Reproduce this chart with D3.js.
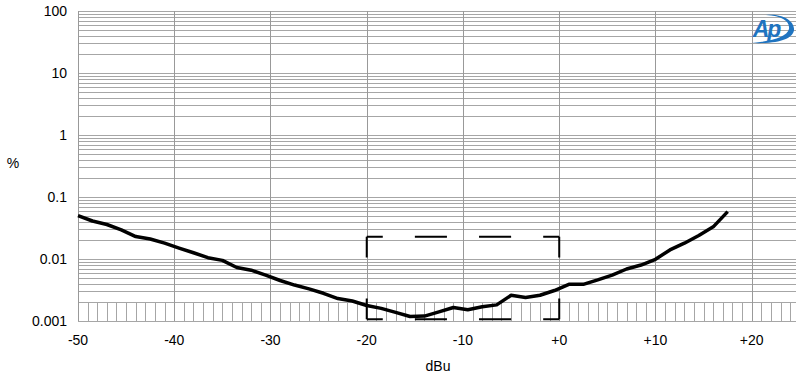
<!DOCTYPE html>
<html>
<head>
<meta charset="utf-8">
<script src="https://cdn.jsdelivr.net/npm/d3@7"></script>
<style>
  body { margin: 0; background: #fff; }
  text { font-family: "Liberation Sans", Arial, sans-serif; }
</style>
</head>
<body>
<svg id="chart"></svg>
<script>
// level sweep, dBu
const levels = [-50, -48.5, -47, -45.5, -44, -42.5, -41, -39.5, -38, -36.5, -35, -33.5, -32, -30.5,
  -29, -27.5, -26, -24.5, -23, -21.5, -20, -18.5, -17, -15.5, -14, -12.5, -11, -9.5, -8, -6.5,
  -5, -3.5, -2, -0.5, 1, 2.5, 4, 5.5, 7, 8.5, 10, 11.5, 13, 14.5, 16, 17.5];
// THD+N, %
const thdn = [0.050, 0.041, 0.036, 0.0294, 0.023, 0.021, 0.018, 0.015, 0.0126, 0.0105, 0.0095, 0.0073, 0.0066, 0.0055,
  0.0045, 0.0038, 0.0033, 0.0028, 0.0023, 0.0021, 0.00178, 0.0016, 0.00138, 0.00118, 0.0012, 0.0014, 0.00165, 0.00152, 0.0017, 0.00182,
  0.0026, 0.0024, 0.0026, 0.0031, 0.0039, 0.0039, 0.0046, 0.0055, 0.0069, 0.008, 0.0099, 0.014, 0.018, 0.024, 0.033, 0.058];

const xTicks = [-50, -40, -30, -20, -10, 0, 10, 20];
const xTickLabels = ["-50", "-40", "-30", "-20", "-10", "+0", "+10", "+20"];
const yTicks = [0.001, 0.01, 0.1, 1, 10, 100];
const yTickLabels = ["0.001", "0.01", "0.1", "1", "10", "100"];

// limit box: dBu range and % range
const boxX = [-20, 0];
const boxY = [0.00107, 0.0228];

const W = 796, H = 376;
const svg = d3.select("#chart").attr("width", W).attr("height", H);

const x = d3.scaleLinear().domain([-50, 24.6]).range([78, 796]);
const y = d3.scaleLog().domain([0.001, 100]).range([321, 11]);

const grid = svg.append("g").attr("shape-rendering", "crispEdges");

// horizontal lines: decades + minor (none between 0.001 and 0.002)
const hLines = [];
for (let dec = 0.001; dec < 100; dec *= 10) {
    for (let m = 1; m <= 9; m++) {
        const v = +(dec * m).toPrecision(3);
        if (dec === 0.001 && m === 1) { hLines.push(v); continue; }
        if (dec === 0.001 && m < 2) continue;
        hLines.push(v);
    }
}
hLines.push(100);

grid.selectAll(".hl")
    .data(hLines)
    .enter().append("line")
    .attr("x1", x(-50)).attr("x2", W)
    .attr("y1", d => Math.round(y(d)) + 0.5)
    .attr("y2", d => Math.round(y(d)) + 0.5)
    .attr("stroke", "#a6a6a6")
    .attr("stroke-width", 1);

// hatch below 0.002, one per dB
grid.selectAll(".hatch")
    .data(d3.range(-49, 25))
    .enter().append("line")
    .attr("x1", d => Math.round(x(d)) + 0.5)
    .attr("x2", d => Math.round(x(d)) + 0.5)
    .attr("y1", y(0.002)).attr("y2", y(0.001))
    .attr("stroke", "#a6a6a6")
    .attr("stroke-width", 1);

// major vertical lines
grid.selectAll(".vl")
    .data(xTicks)
    .enter().append("line")
    .attr("x1", d => Math.round(x(d)) + 0.5)
    .attr("x2", d => Math.round(x(d)) + 0.5)
    .attr("y1", y(100)).attr("y2", y(0.001))
    .attr("stroke", "#999")
    .attr("stroke-width", 1.2);

// tick labels
svg.selectAll(".xt")
    .data(xTicks)
    .enter().append("text")
    .attr("x", d => x(d))
    .attr("y", 345)
    .attr("text-anchor", "middle")
    .style("font-size", "14px")
    .text((d, i) => xTickLabels[i]);

svg.selectAll(".yt")
    .data(yTicks)
    .enter().append("text")
    .attr("x", 67)
    .attr("y", d => y(d) + 5)
    .attr("text-anchor", "end")
    .style("font-size", "14px")
    .text((d, i) => yTickLabels[i]);

svg.append("text").attr("x", 13).attr("y", 168).attr("text-anchor", "middle")
    .style("font-size", "14px").text("%");
svg.append("text").attr("x", 438).attr("y", 371).attr("text-anchor", "middle")
    .style("font-size", "14px").text("dBu");

// limit box, dashed with corners
const bx0 = x(boxX[0]), bx1 = x(boxX[1]);
const by0 = y(boxY[1]), by1 = y(boxY[0]);
const bw = bx1 - bx0, bh = by1 - by0;
const box = svg.append("g").attr("stroke", "#000").attr("stroke-width", 2).attr("fill", "none");
[[bx0, by0, bx1, by0], [bx0, by1, bx1, by1]].forEach(p => {
    box.append("line").attr("x1", p[0]).attr("y1", p[1]).attr("x2", p[2]).attr("y2", p[3])
        .attr("stroke-dasharray", `${bw / 6},${bw / 6}`)
        .attr("stroke-dashoffset", bw / 12);
});
[[bx0, by0, bx0, by1], [bx1, by0, bx1, by1]].forEach(p => {
    box.append("line").attr("x1", p[0]).attr("y1", p[1]).attr("x2", p[2]).attr("y2", p[3])
        .attr("stroke-dasharray", `${bh / 4},${bh / 2}`);
});

// curve
const line = d3.line()
    .x(d => x(d[0]))
    .y(d => y(d[1]));

svg.append("path")
    .datum(levels.map((l, i) => [l, thdn[i]]))
    .attr("fill", "none")
    .attr("stroke", "#000")
    .attr("stroke-width", 3.5)
    .attr("stroke-linejoin", "round")
    .attr("d", line);

// Ap logo
const logo = svg.append("g").attr("transform", "translate(770,28)");
logo.append("path")
    .attr("d", "M -4 -13 C 12 -15, 25 -7, 24 2 C 23 11, 8 16, -18 15 C 2 13, 17 9, 19 1 C 20 -7, 12 -12, -4 -13 Z")
    .attr("fill", "#1f74c0");
logo.append("text")
    .attr("x", -4).attr("y", 9)
    .attr("text-anchor", "middle")
    .style("font-size", "23px")
    .style("font-style", "italic")
    .style("font-weight", "bold")
    .style("letter-spacing", "-2px")
    .attr("fill", "#1f74c0")
    .text("Ap");
</script>
</body>
</html>
